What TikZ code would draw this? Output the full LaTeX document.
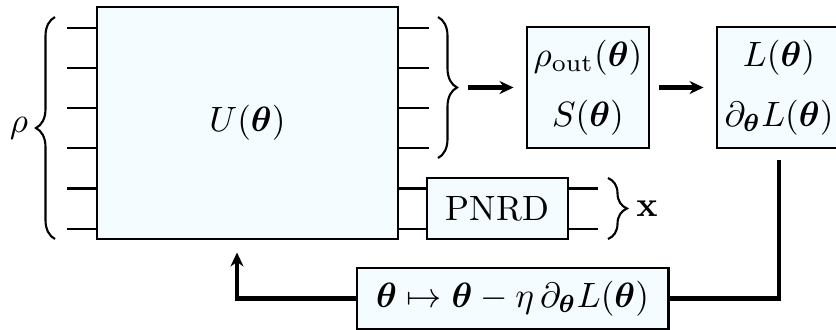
\documentclass[tikz,border=0pt]{standalone}
\usepackage{amsmath,bm}
\usetikzlibrary{arrows.meta,decorations.pathreplacing}
\definecolor{boxfill}{RGB}{245,252,255}

\begin{document}
\begin{tikzpicture}[x=0.01cm,y=-0.01cm,
  box/.style={draw, thick, fill=boxfill, inner sep=0pt, align=center},
  wire/.style={semithick},
  brc/.style={decorate, decoration={brace, amplitude=0.19cm}, semithick},
  flow/.style={very thick, -{Stealth[length=0.14cm,width=0.13cm]}}]
\useasboundingbox (0,0) rectangle (836,329);

\node[box, minimum width=3.01cm, minimum height=2.32cm] (u) at (247.5,123) {$U(\bm{\theta})$};
\node[box, minimum width=1.41cm, minimum height=0.61cm] (pnrd) at (497.5,208.5) {PNRD};
\node[box, minimum width=1.22cm, minimum height=1.21cm] (out) at (588,87.5) {$\rho_{\mathrm{out}}(\bm{\theta})$\\[5pt]$S(\bm{\theta})$};
\node[box, minimum width=1.24cm, minimum height=1.21cm] (loss) at (779,87.5) {$L(\bm{\theta})$\\[5pt]$\partial_{\bm{\theta}}L(\bm{\theta})$};
\node[box, minimum width=3.11cm, minimum height=0.61cm] (upd) at (512.5,298.5) {$\bm{\theta}\mapsto\bm{\theta}-\eta\,\partial_{\bm{\theta}}L(\bm{\theta})$};

% wires
\foreach \k/\yy in {1/28,2/68,3/108,4/148,5/188.5,6/229} {
  \coordinate (w\k) at (67,\yy);
  \draw[wire] (w\k) -- (w\k -| u.west);
}
\foreach \k in {1,...,4}
  \draw[wire] (w\k -| u.east) -- ++(30,0);
\foreach \k in {5,6} {
  \draw[wire] (w\k -| u.east) -- (w\k -| pnrd.west);
  \draw[wire] (w\k -| pnrd.east) -- ++(29,0);
}

% braces
\draw[brc] (55,239) -- (55,17);
\node (rho) at (19,128) {$\rho$};
\draw[brc] (438,17) -- (438,158);
\coordinate (tip) at (458,87.5);
\draw[brc] (608,178) -- (608,239);
\node (xout) at (647,208.5) {$\mathbf{x}$};

% flow
\draw[flow, shorten <=0.1cm, shorten >=0.12cm] (tip) -- (out);
\draw[flow, shorten <=0.09cm, shorten >=0.12cm] (out) -- (loss);
\draw[very thick, shorten <=0.11cm] (loss.south) |- (upd.east);
\draw[flow, shorten >=0.12cm] (upd.west) -| ([xshift=-0.105cm]u.south);
\end{tikzpicture}
\end{document}
